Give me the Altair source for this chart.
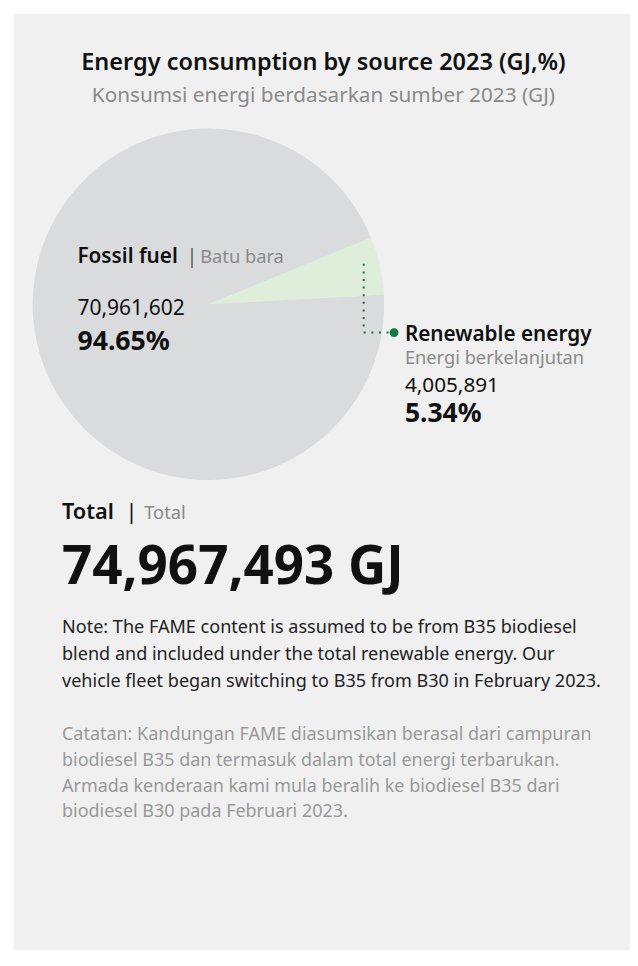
import math
import altair as alt
import pandas as pd

# ---- data ----
categories = ["Renewable energy", "Fossil fuel"]
categories_id = ["Energi berkelanjutan", "Batu bara"]
values_gj = [4005891, 70961602]
percents = [5.34, 94.65]
total_gj = 74967493

title_en = "Energy consumption by source 2023 (GJ,%)"
title_id = "Konsumsi energi berdasarkan sumber 2023 (GJ)"
note_en = [
    "Note: The FAME content is assumed to be from B35 biodiesel",
    "blend and included under the total renewable energy. Our",
    "vehicle fleet began switching to B35 from B30 in February 2023.",
]
note_id = [
    "Catatan: Kandungan FAME diasumsikan berasal dari campuran",
    "biodiesel B35 dan termasuk dalam total energi terbarukan.",
    "Armada kenderaan kami mula beralih ke biodiesel B35 dari",
    "biodiesel B30 pada Februari 2023.",
]

FONT = "Noto Sans"
BLACK = "#111111"
GRAY = "#8a8a8a"
NOTE_GRAY = "#999999"
GREEN = "#0b7a3d"
PANEL = "#eff0ef"

W, H = 630, 948

pie_df = pd.DataFrame({"category": categories, "value": values_gj, "order": [0, 1]})

# renewable wedge centred ~12.7 deg above horizontal (right side)
ren_span = 360 * values_gj[0] / sum(values_gj)
start_deg = 90 - 12.7 - ren_span / 2
start = math.radians(start_deg)

base = alt.Chart(pd.DataFrame({"d": [0]}))

panel = base.mark_rect(color=PANEL).encode(
    x=alt.value(6), x2=alt.value(W), y=alt.value(0), y2=alt.value(H)
)

pie = alt.Chart(pie_df).mark_arc(radius=178, x=203, y=294).encode(
    theta=alt.Theta("value:Q", stack=True,
                    scale=alt.Scale(range=[start, start + 2 * math.pi])),
    color=alt.Color("category:N",
                    scale=alt.Scale(domain=categories, range=["#dfeedb", "#dadbdc"]),
                    legend=None),
    order=alt.Order("order:Q"),
)


def txt(text, x, y, size, weight=400, color=BLACK, align="left"):
    return alt.Chart(pd.DataFrame({"t": [text]})).mark_text(
        font=FONT, fontSize=size, fontWeight=weight, color=color,
        align=align, baseline="alphabetic", x=x, y=y
    ).encode(text="t:N")


def txt_lines(lines, x, y, size, weight, color, line_height):
    return base.mark_text(font=FONT, fontSize=size, fontWeight=weight, color=color,
                          align="left", baseline="alphabetic", x=x, y=y,
                          lineHeight=line_height).encode(text=alt.value(lines))


layers = [panel, pie]

# leader line and dot
leader_v = base.mark_rule(color=GREEN, strokeWidth=2, strokeDash=[2, 5.7]).encode(
    x=alt.value(360.3), y=alt.value(253), y2=alt.value(322.5)
)
leader_h = base.mark_rule(color=GREEN, strokeWidth=2, strokeDash=[2, 5.7]).encode(
    x=alt.value(360.3), x2=alt.value(388), y=alt.value(322.5)
)
dot = base.mark_point(filled=True, shape="circle", size=80, color=GREEN, opacity=1).encode(
    x=alt.value(391), y=alt.value(322.7)
)
layers += [leader_v, leader_h, dot]

layers += [
    txt(title_en, 319.5, 57, 23.8, 600, BLACK, "center"),
    txt(title_id, 319.5, 88.7, 21, 400, GRAY, "center"),
    # fossil
    txt(categories[1], 70.3, 252, 21, 600, BLACK),
    txt("|", 180.5, 252, 21, 400, "#666666"),
    txt(categories_id[1], 194.7, 252, 18.5, 400, GRAY),
    txt(f"{values_gj[1]:,}", 70.3, 305, 21.3, 400, BLACK),
    txt(f"{percents[1]:.2f}%", 70.3, 340.3, 27, 700, BLACK),
    # renewable
    txt(categories[0], 402, 330.7, 21, 600, BLACK),
    txt(categories_id[0], 402, 354.7, 18.5, 400, GRAY),
    txt(f"{values_gj[0]:,}", 402, 383.2, 21, 400, BLACK),
    txt(f"{percents[0]:.2f}%", 402, 413.5, 26.8, 700, BLACK),
    # total
    txt("Total", 54.7, 511.3, 22, 600, BLACK),
    txt("|", 119, 511.3, 22, 400, BLACK),
    txt("Total", 138, 511.3, 18.5, 400, GRAY),
    txt(f"{total_gj:,} GJ", 54.7, 577, 53.6, 700, BLACK),
    # notes
    txt_lines(note_en, 54.7, 627, 18.3, 400, "#222222", 27.5),
    txt_lines(note_id, 54.7, 735.3, 18.2, 400, NOTE_GRAY, 26.1),
]

chart = alt.layer(*layers).properties(
    width=W, height=H, padding=0, autosize=alt.AutoSizeParams(type="none")
).configure(background="#ffffff").configure_view(stroke=None)

chart.save("out.html", embed_options={"renderer": "svg", "actions": False})
